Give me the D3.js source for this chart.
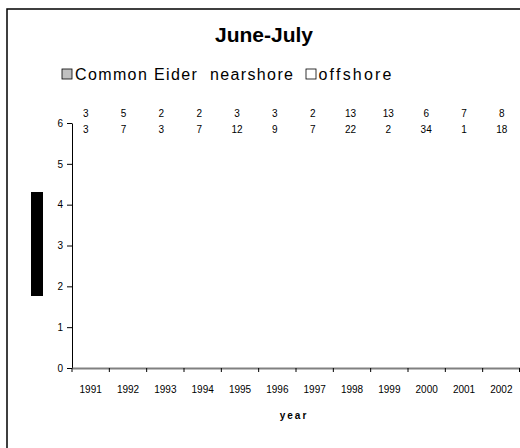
<!DOCTYPE html>
<html><head><meta charset="utf-8">
<script src="https://cdn.jsdelivr.net/npm/d3@7"></script>
<style>html,body{margin:0;padding:0;background:#fff;}svg{display:block;}</style>
</head><body>
<script>
const years = ["1991","1992","1993","1994","1995","1996","1997","1998","1999","2000","2001","2002"];
const nearshore = [0,0,0,0,0,0,0,0,0,0,0,0];
const offshore = [0,0,0,0,0,0,0,0,0,0,0,0];
const nNearshore = [3,5,2,2,3,3,2,13,13,6,7,8];
const nOffshore = [3,7,3,7,12,9,7,22,2,34,1,18];
const yTicks = [0,1,2,3,4,5,6];

const W = 520, H = 448;
const svg = d3.select("body").append("svg").attr("width", W).attr("height", H)
  .style("font-family", "'Liberation Sans', Arial, sans-serif");

// outer frame
svg.append("rect").attr("x", 7).attr("y", 9).attr("width", 530).attr("height", 460)
  .attr("fill", "none").attr("stroke", "#000").attr("stroke-width", 1.5);

const x = d3.scaleBand().domain(years).range([72, 520]).padding(0);
const xi = d3.scaleBand().domain(["n","o"]).range([0, x.bandwidth()]).paddingInner(0).paddingOuter(0.5);
const y = d3.scaleLinear().domain([0, 6]).range([368, 123]);

// title
svg.append("text").attr("x", 264).attr("y", 42).attr("text-anchor", "middle")
  .attr("font-size", 21).attr("font-weight", "bold").text("June-July");

// legend
svg.append("rect").attr("x", 62).attr("y", 69).attr("width", 10).attr("height", 10)
  .attr("fill", "#c0c0c0").attr("stroke", "#000").attr("stroke-width", 0.8);
svg.append("text").attr("x", 75).attr("y", 79.5).attr("font-size", 16)
  .attr("textLength", 218).attr("lengthAdjust", "spacing").attr("xml:space","preserve")
  .text("Common Eider  nearshore");
svg.append("rect").attr("x", 306).attr("y", 69).attr("width", 10).attr("height", 10)
  .attr("fill", "#fff").attr("stroke", "#000").attr("stroke-width", 0.8);
svg.append("text").attr("x", 318.5).attr("y", 79.5).attr("font-size", 16)
  .attr("textLength", 73).attr("lengthAdjust", "spacing").text("offshore");

// bars (zero-height)
const g = svg.append("g");
years.forEach((yr, i) => {
  g.append("rect").attr("x", x(yr) + xi("n")).attr("width", xi.bandwidth())
    .attr("y", y(nearshore[i])).attr("height", y(0) - y(nearshore[i]))
    .attr("fill", "#c0c0c0").attr("stroke", nearshore[i] ? "#000" : "none");
  g.append("rect").attr("x", x(yr) + xi("o")).attr("width", xi.bandwidth())
    .attr("y", y(offshore[i])).attr("height", y(0) - y(offshore[i]))
    .attr("fill", "#fff").attr("stroke", offshore[i] ? "#000" : "none");
});

// y axis
const yAxis = svg.append("g").attr("transform", "translate(72,0)")
  .call(d3.axisLeft(y).tickValues(yTicks).tickFormat(d3.format("d")).tickSize(5).tickPadding(4).tickSizeOuter(0));
yAxis.select(".domain").attr("stroke", "#000");
yAxis.selectAll("text").attr("font-size", 10).attr("font-family", "'Liberation Sans', Arial, sans-serif").attr("fill", "#000");

// x axis
const xAxis = svg.append("g").attr("transform", "translate(0,368)")
  .call(d3.axisBottom(x).tickSize(0).tickPadding(18).tickSizeOuter(0));
xAxis.select(".domain").attr("stroke", "#808080").attr("stroke-width", 2);
xAxis.selectAll("text").attr("font-size", 10).attr("font-family", "'Liberation Sans', Arial, sans-serif").attr("fill", "#000");
// boundary ticks between categories
svg.append("g").selectAll("line").data(years.concat(["end"])).join("line")
  .attr("x1", (d, i) => i < years.length ? x(d) : x.range()[1] - 0.5)
  .attr("x2", (d, i) => i < years.length ? x(d) : x.range()[1] - 0.5)
  .attr("y1", 368).attr("y2", 372).attr("stroke", "#000");

// x axis title
svg.append("text").attr("x", 294).attr("y", 419).attr("text-anchor", "middle")
  .attr("font-size", 10).attr("font-weight", "bold").attr("letter-spacing", 2).text("year");

// sample size labels
const lab = svg.append("g").attr("font-size", 10).attr("text-anchor", "middle");
years.forEach((yr, i) => {
  const cx = x(yr) + x.bandwidth() / 2 - 5 + 0.5 * i;
  lab.append("text").attr("x", cx).attr("y", 117).text(nNearshore[i]);
  lab.append("text").attr("x", cx).attr("y", 133).text(nOffshore[i]);
});

// black block at left
svg.append("rect").attr("x", 31).attr("y", 192).attr("width", 12).attr("height", 104).attr("fill", "#000");
</script>
</body></html>
